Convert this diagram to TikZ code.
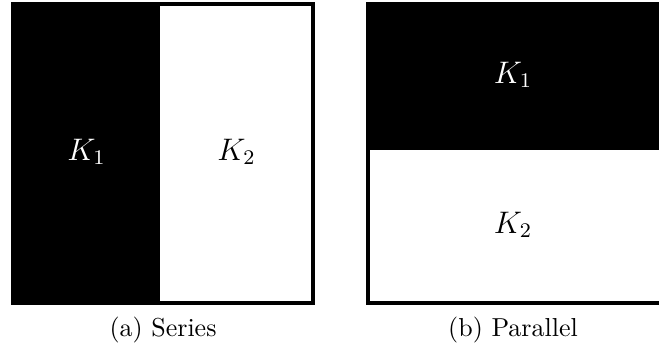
\documentclass[tikz,border=0pt]{standalone}
\usetikzlibrary{positioning}

\begin{document}
\begin{tikzpicture}[x=0.385pt,y=-0.385pt,every node/.style={font=\large},frame/.style={draw=black,line width=1.3pt},dark/.style={fill=black},lab/.style={font=\large,inner sep=0pt},captext/.style={font=\normalsize,inner sep=0pt}]
\useasboundingbox (0,0) rectangle (659,349);
\clip (0,0) rectangle (659,349);
% (a) series
\fill[dark] (13,4) rectangle (160,303);
\draw[frame] (13,4) rectangle (313,303);
\node[lab,text=white] (ka) at (86.5,152) {$K_1$};
\node[lab] (kb) at (236.5,152) {$K_2$};
\node[captext] (capa) at (163,330) {(a) Series};
% (b) parallel
\fill[dark] (368,4) rectangle (662,150);
\draw[frame] (368,4) rectangle (662,303);
\node[lab,text=white] (kc) at (513,75) {$K_1$};
\node[lab] (kd) at (513,225) {$K_2$};
\node[captext] (capb) at (513,330) {(b) Parallel};
\end{tikzpicture}
\end{document}
